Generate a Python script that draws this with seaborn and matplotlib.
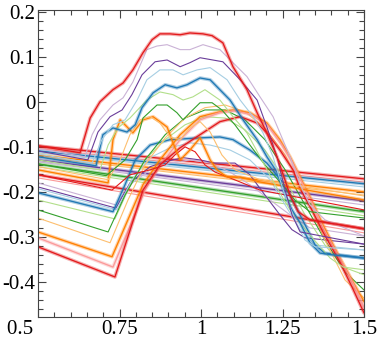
import pandas as pd
import matplotlib
matplotlib.use("Agg")
import matplotlib.pyplot as plt
import matplotlib.patheffects as pe
from matplotlib.ticker import FixedLocator, MultipleLocator
import seaborn as sns

# Paired-style colours used in the figure
LB, BL, LG, GR = '#a6cee3', '#1f78b4', '#b2df8a', '#33a02c'
PK, RD, LO, OR = '#fb9a99', '#e31a1c', '#fdbf6f', '#ff7f00'
LP, PU = '#cab2d6', '#6a3d9a'

# axis ticks
xtick_vals = [0.5, 0.75, 1.0, 1.25, 1.5]
xtick_labels = ['0.5 ', '0.75', '1', '1.25', '1.5']
ytick_vals = [0.2, 0.1, 0.0, -0.1, -0.2, -0.3, -0.4]
ytick_labels = ['0.2', '0.1', '0', '-0.1', '-0.2', '-0.3', '-0.4']

# nearly flat lines crossing the whole range
flat_x = [0.5, 1.5]
flat_y0 = [-0.098, -0.104, -0.109, -0.113, -0.118, -0.122, -0.129, -0.133, -0.138, -0.144, -0.162, -0.169]
flat_y1 = [-0.171, -0.178, -0.182, -0.189, -0.200, -0.207, -0.220, -0.229, -0.244, -0.253, -0.282, -0.291]
flat_colors = [RD, PK, BL, LB, OR, LO, PU, LP, GR, LG, RD, PK]
flat_marked = [True, False, True, False, True, False, True, False, True, False, True, False]

# plateau curves (upper family)
a1_x = [0.5, 0.629, 0.644, 0.660, 0.690, 0.730, 0.761, 0.791, 0.822, 0.850, 0.874, 0.905, 0.936, 0.966, 1.006, 1.034, 1.067, 1.098, 1.141, 1.172, 1.202, 1.233, 1.252, 1.273, 1.298, 1.334, 1.5]
a1_y = [-0.098, -0.113, -0.076, -0.036, 0.000, 0.027, 0.042, 0.071, 0.109, 0.138, 0.151, 0.151, 0.149, 0.153, 0.151, 0.147, 0.131, 0.078, 0.027, -0.024, -0.069, -0.122, -0.162, -0.207, -0.244, -0.262, -0.282]
a2_x = [0.5, 0.644, 0.666, 0.690, 0.730, 0.761, 0.791, 0.834, 0.865, 0.896, 0.936, 0.966, 1.006, 1.058, 1.098, 1.141, 1.181, 1.221, 1.273, 1.304, 1.334, 1.380, 1.5]
a2_y = [-0.104, -0.122, -0.073, -0.040, -0.007, 0.009, 0.044, 0.116, 0.124, 0.127, 0.116, 0.116, 0.127, 0.116, 0.087, 0.056, 0.011, -0.033, -0.122, -0.184, -0.229, -0.262, -0.298]
a3_x = [0.5, 0.653, 0.684, 0.721, 0.758, 0.788, 0.819, 0.859, 0.896, 0.936, 0.966, 0.997, 1.067, 1.120, 1.172, 1.202, 1.233, 1.258, 1.279, 1.304, 1.5]
a3_y = [-0.109, -0.129, -0.067, -0.033, -0.018, 0.016, 0.060, 0.089, 0.093, 0.078, 0.087, 0.098, 0.089, 0.049, 0.004, -0.056, -0.122, -0.196, -0.251, -0.289, -0.316]
a4_x = [0.5, 0.666, 0.696, 0.730, 0.767, 0.804, 0.834, 0.874, 0.914, 0.945, 0.988, 1.028, 1.080, 1.120, 1.160, 1.190, 1.221, 1.252, 1.288, 1.319, 1.350, 1.5]
a4_y = [-0.116, -0.136, -0.084, -0.051, -0.040, 0.004, 0.049, 0.071, 0.071, 0.060, 0.071, 0.076, 0.049, 0.004, -0.033, -0.069, -0.122, -0.196, -0.262, -0.307, -0.322, -0.329]
a5_x = [0.5, 0.678, 0.699, 0.730, 0.773, 0.798, 0.819, 0.853, 0.890, 0.926, 0.957, 0.997, 1.028, 1.089, 1.129, 1.172, 1.202, 1.233, 1.258, 1.279, 1.304, 1.334, 1.365, 1.405, 1.5]
a5_y = [-0.122, -0.142, -0.073, -0.058, -0.067, -0.051, -0.013, 0.020, 0.038, 0.031, 0.038, 0.053, 0.049, 0.004, -0.040, -0.084, -0.122, -0.156, -0.207, -0.240, -0.269, -0.313, -0.336, -0.340, -0.347]
a6_x = [0.5, 0.690, 0.715, 0.745, 0.782, 0.834, 0.874, 0.914, 0.945, 0.975, 1.012, 1.058, 1.098, 1.141, 1.181, 1.227, 1.273, 1.334, 1.396, 1.436, 1.5]
a6_y = [-0.129, -0.151, -0.096, -0.058, -0.036, 0.004, 0.022, 0.016, 0.004, 0.011, 0.027, 0.004, -0.033, -0.069, -0.122, -0.184, -0.240, -0.296, -0.347, -0.367, -0.373]
a7_x = [0.5, 0.709, 0.767, 0.804, 0.822, 0.865, 0.896, 0.926, 0.945, 0.966, 0.997, 1.034, 1.064, 1.104, 1.150, 1.196, 1.242, 1.288, 1.334, 1.5]
a7_y = [-0.138, -0.164, -0.129, -0.084, -0.036, -0.007, -0.007, -0.024, -0.040, -0.024, -0.002, -0.002, -0.018, -0.051, -0.096, -0.140, -0.178, -0.218, -0.244, -0.258]
a8_x = [0.5, 0.715, 0.752, 0.782, 0.813, 0.844, 0.874, 0.905, 0.936, 0.966, 0.997, 1.028, 1.064, 1.104, 1.181, 1.5]
a8_y = [-0.144, -0.173, -0.129, -0.073, -0.040, -0.033, -0.047, -0.078, -0.084, -0.058, -0.044, -0.067, -0.118, -0.151, -0.173, -0.209]
a9_x = [0.5, 0.715, 0.730, 0.752, 0.791, 0.822, 0.853, 0.896, 0.914, 0.936, 0.966, 0.997, 1.028, 1.049, 1.080, 1.120, 1.181, 1.5]
a9_y = [-0.151, -0.180, -0.084, -0.040, -0.069, -0.040, -0.033, -0.056, -0.091, -0.129, -0.107, -0.080, -0.129, -0.151, -0.167, -0.167, -0.178, -0.218]
a10_x = [0.5, 0.727, 0.782, 0.844, 0.890, 0.920, 0.951, 0.982, 1.012, 1.043, 1.089, 1.181, 1.5]
a10_y = [-0.162, -0.196, -0.162, -0.151, -0.140, -0.118, -0.100, -0.111, -0.140, -0.156, -0.169, -0.196, -0.240]

# arch curves (lower family)
b1_x = [0.5, 0.739, 0.782, 0.844, 0.905, 0.966, 1.028, 1.089, 1.150, 1.212, 1.273, 1.334, 1.5]
b1_y = [-0.180, -0.229, -0.184, -0.151, -0.136, -0.129, -0.136, -0.156, -0.184, -0.218, -0.251, -0.280, -0.298]
b2_x = [0.5, 0.739, 0.782, 0.844, 0.890, 0.945, 0.997, 1.043, 1.104, 1.150, 1.196, 1.242, 1.279, 1.319, 1.5]
b2_y = [-0.189, -0.236, -0.180, -0.144, -0.133, -0.124, -0.129, -0.136, -0.136, -0.162, -0.207, -0.251, -0.284, -0.302, -0.316]
b3_x = [0.5, 0.742, 0.788, 0.844, 0.905, 0.966, 1.028, 1.089, 1.150, 1.212, 1.258, 1.304, 1.350, 1.5]
b3_y = [-0.193, -0.240, -0.173, -0.124, -0.102, -0.091, -0.096, -0.107, -0.129, -0.173, -0.229, -0.284, -0.318, -0.329]
b4_x = [0.5, 0.730, 0.767, 0.798, 0.844, 0.905, 0.997, 1.058, 1.098, 1.150, 1.202, 1.252, 1.288, 1.319, 1.350, 1.380, 1.5]
b4_y = [-0.202, -0.244, -0.184, -0.129, -0.096, -0.084, -0.080, -0.078, -0.084, -0.107, -0.136, -0.180, -0.229, -0.273, -0.318, -0.336, -0.347]
b5_x = [0.5, 0.736, 0.776, 0.828, 0.890, 0.951, 1.012, 1.074, 1.135, 1.196, 1.258, 1.319, 1.380, 1.436, 1.5]
b5_y = [-0.218, -0.260, -0.196, -0.129, -0.084, -0.051, -0.033, -0.036, -0.062, -0.107, -0.173, -0.251, -0.318, -0.367, -0.384]
b6_x = [0.5, 0.715, 0.767, 0.828, 0.890, 0.951, 1.012, 1.074, 1.135, 1.196, 1.258, 1.319, 1.380, 1.442, 1.5]
b6_y = [-0.240, -0.289, -0.207, -0.129, -0.073, -0.036, -0.018, -0.018, -0.040, -0.084, -0.151, -0.229, -0.307, -0.378, -0.418]
b7_x = [0.5, 0.721, 0.776, 0.828, 0.890, 0.951, 1.012, 1.074, 1.135, 1.196, 1.258, 1.319, 1.380, 1.442, 1.5]
b7_y = [-0.258, -0.313, -0.218, -0.140, -0.080, -0.036, -0.013, -0.007, -0.022, -0.058, -0.118, -0.207, -0.307, -0.396, -0.436]
b8_x = [0.5, 0.727, 0.822, 0.874, 0.936, 0.997, 1.058, 1.098, 1.150, 1.202, 1.242, 1.273, 1.304, 1.334, 1.374, 1.426, 1.463, 1.5]
b8_y = [-0.289, -0.344, -0.184, -0.129, -0.073, -0.033, -0.022, -0.018, -0.024, -0.047, -0.084, -0.122, -0.167, -0.211, -0.273, -0.347, -0.396, -0.444]
b9_x = [0.5, 0.730, 0.828, 0.880, 0.936, 0.997, 1.058, 1.104, 1.156, 1.205, 1.248, 1.279, 1.310, 1.340, 1.380, 1.433, 1.469, 1.5]
b9_y = [-0.302, -0.367, -0.196, -0.136, -0.084, -0.040, -0.024, -0.020, -0.029, -0.053, -0.096, -0.133, -0.180, -0.224, -0.289, -0.358, -0.407, -0.456]
b10_x = [0.5, 0.736, 0.822, 0.874, 0.936, 0.997, 1.058, 1.120, 1.172, 1.202, 1.242, 1.282, 1.304, 1.340, 1.374, 1.426, 1.463, 1.5]
b10_y = [-0.322, -0.389, -0.196, -0.140, -0.102, -0.073, -0.044, -0.033, -0.047, -0.069, -0.107, -0.151, -0.193, -0.240, -0.289, -0.356, -0.411, -0.469]

sns.set_style("ticks")
plt.rcParams['font.family'] = ['Liberation Serif', 'DejaVu Serif']
plt.rcParams['axes.unicode_minus'] = False

fig, ax = plt.subplots(figsize=(3.8, 3.38), dpi=100)
fig.subplots_adjust(left=0.1, right=0.958, top=0.9704, bottom=0.062)


def draw(x, y, color, marked=False):
    df = pd.DataFrame({'x': x, 'y': y})
    if marked:
        # marker-studded lines look like a lighter halo around the stroke
        eff = [pe.Stroke(linewidth=2.6, foreground=color, alpha=0.35), pe.Normal()]
        sns.lineplot(data=df, x='x', y='y', sort=False, estimator=None,
                     color=color, lw=0.95, ax=ax, path_effects=eff)
    else:
        sns.lineplot(data=df, x='x', y='y', sort=False, estimator=None,
                     color=color, lw=0.8, ax=ax)


for y0, y1, c, m in zip(flat_y0, flat_y1, flat_colors, flat_marked):
    draw(flat_x, [y0, y1], c, m)

arches = [(b1_x, b1_y, LP, False), (b2_x, b2_y, PU, False), (b3_x, b3_y, LB, False),
          (b4_x, b4_y, BL, True), (b5_x, b5_y, LG, False), (b6_x, b6_y, GR, False),
          (b7_x, b7_y, LO, False), (b8_x, b8_y, OR, True), (b9_x, b9_y, PK, True),
          (b10_x, b10_y, RD, True)]
plateaus = [(a10_x, a10_y, RD, False), (a9_x, a9_y, OR, True), (a8_x, a8_y, LO, False),
            (a7_x, a7_y, GR, False), (a6_x, a6_y, LG, False), (a5_x, a5_y, BL, True),
            (a4_x, a4_y, LB, False), (a3_x, a3_y, PU, False), (a2_x, a2_y, LP, False),
            (a1_x, a1_y, RD, True)]
for x, y, c, m in arches + plateaus:
    draw(x, y, c, m)

ax.set_xlim(0.5, 1.5)
ax.set_ylim(-0.478, 0.204)
ax.xaxis.set_major_locator(FixedLocator(xtick_vals))
ax.set_xticklabels(xtick_labels)
ax.xaxis.set_minor_locator(MultipleLocator(0.05))
ax.yaxis.set_major_locator(FixedLocator(ytick_vals))
ax.set_yticklabels(ytick_labels)
ax.yaxis.set_minor_locator(MultipleLocator(0.02))
ax.get_xticklabels()[0].set_horizontalalignment('right')
ax.tick_params(which='both', direction='in', top=True, right=True, colors='#444444',
               labelcolor='black', labelsize=15, width=0.8)
ax.tick_params(which='major', length=6, pad=2)
ax.tick_params(which='minor', length=3.5)
ax.set_xlabel('')
ax.set_ylabel('')
for s in ax.spines.values():
    s.set_linewidth(0.8)
    s.set_color('#444444')

fig.savefig('out.png', dpi=100)
